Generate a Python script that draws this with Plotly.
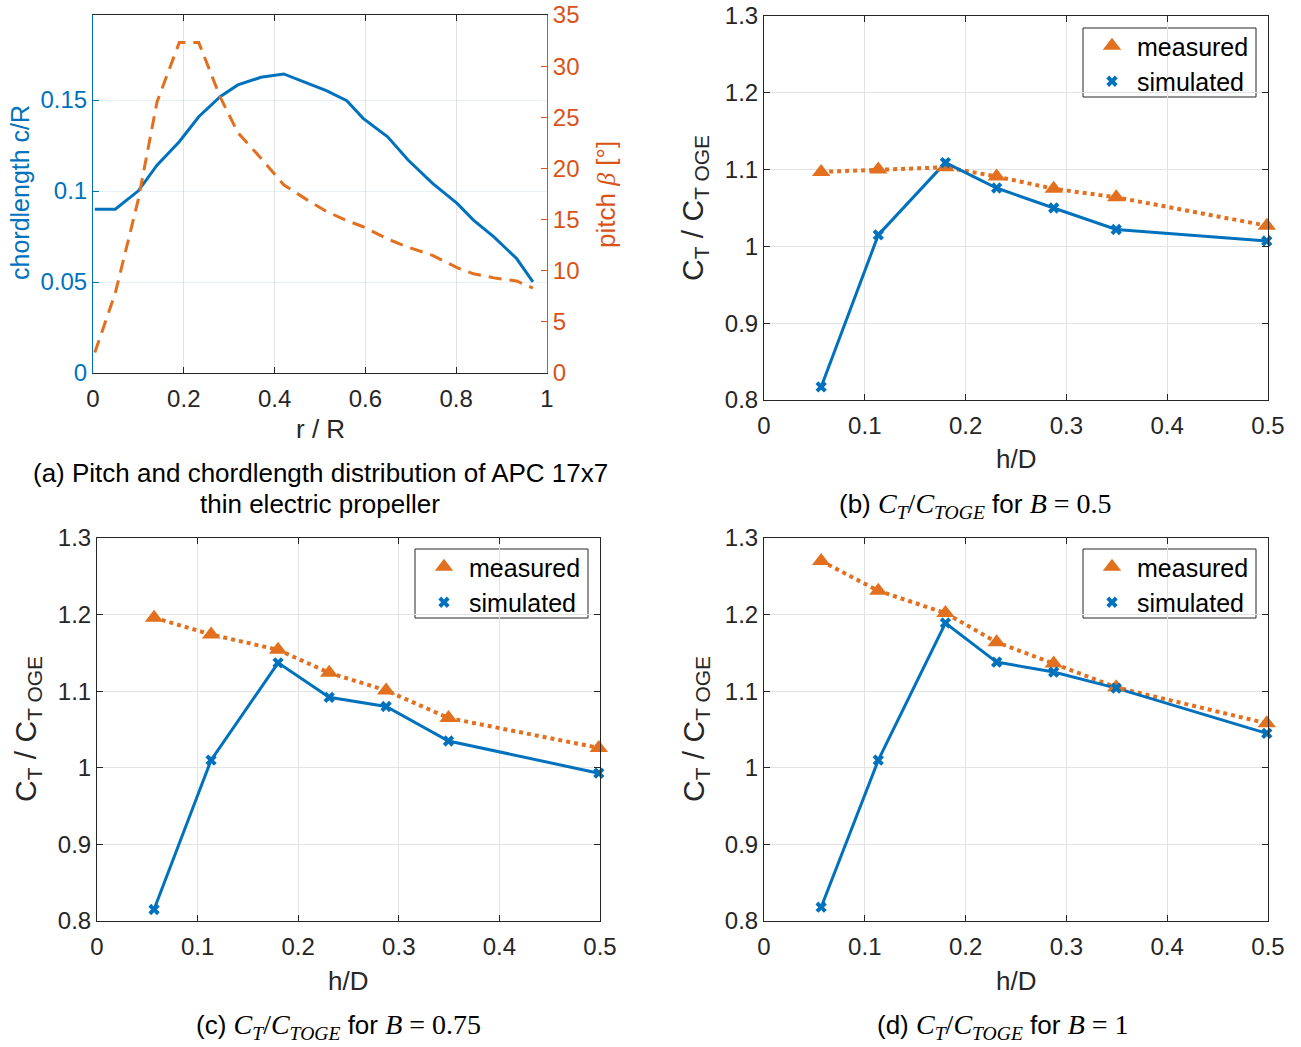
import plotly.graph_objects as go

# ---------------- data ----------------
r_R = [0.004, 0.049, 0.10, 0.141, 0.19, 0.233, 0.28, 0.319, 0.37, 0.42, 0.469,
       0.514, 0.559, 0.595, 0.649, 0.694, 0.748, 0.802, 0.838, 0.883, 0.933, 0.969]
chord_c_R = [0.090, 0.090, 0.1001, 0.1142, 0.1271, 0.1408, 0.1518, 0.1583, 0.1625,
             0.1643, 0.1595, 0.1551, 0.1496, 0.1399, 0.1298, 0.117, 0.1042, 0.0932,
             0.084, 0.0748, 0.0629, 0.0501]
pitch_beta = [2.0, 7.8, 17.0, 26.5, 32.3, 32.3, 27.0, 23.5, 21.0, 18.4, 17.0,
              15.8, 14.9, 14.3, 13.1, 12.3, 11.5, 10.3, 9.7, 9.3, 9.0, 8.3]

h_D = [0.0567, 0.1134, 0.180, 0.2308, 0.2874, 0.3494, 0.4988]

meas_B050 = [1.097, 1.100, 1.103, 1.091, 1.075, 1.064, 1.027]
sim_B050 = [0.817, 1.015, 1.109, 1.076, 1.050, 1.022, 1.007]

meas_B075 = [1.196, 1.174, 1.154, 1.124, 1.101, 1.065, 1.026]
sim_B075 = [0.815, 1.010, 1.137, 1.092, 1.080, 1.035, 0.993]

meas_B100 = [1.270, 1.231, 1.202, 1.164, 1.136, 1.105, 1.058]
sim_B100 = [0.818, 1.010, 1.189, 1.138, 1.125, 1.104, 1.045]

ct_ticks = [0.8, 0.9, 1.0, 1.1, 1.2, 1.3]
ct_ticktext = ["0.8", "0.9", "1", "1.1", "1.2", "1.3"]
hd_ticks = [0, 0.1, 0.2, 0.3, 0.4, 0.5]
hd_ticktext = ["0", "0.1", "0.2", "0.3", "0.4", "0.5"]
rr_ticks = [0, 0.2, 0.4, 0.6, 0.8, 1.0]
rr_ticktext = ["0", "0.2", "0.4", "0.6", "0.8", "1"]
chord_ticks = [0, 0.05, 0.1, 0.15]
chord_ticktext = ["0", "0.05", "0.1", "0.15"]
pitch_ticks = [0, 5, 10, 15, 20, 25, 30, 35]

# ---------------- style ----------------
W, H = 1301, 1047
BLUE = "#0072BD"
ORANGE = "#E2701F"
ORANGE_AX = "#D95319"
AXC = "#262626"
GRID = "#E3E3E3"
FONT = "Liberation Sans, Arial, sans-serif"
TICKF = 24


def px_x(x0, x1):
    return [x0 / W, x1 / W]


def px_y(y0, y1):
    return [1 - y1 / H, 1 - y0 / H]


fig = go.Figure()

# ---- panel (a) ----
fig.add_trace(go.Scatter(x=r_R, y=chord_c_R, mode="lines", xaxis="x", yaxis="y",
                         line=dict(color=BLUE, width=3), showlegend=False))
fig.add_trace(go.Scatter(x=r_R, y=pitch_beta, mode="lines", xaxis="x", yaxis="y5",
                         line=dict(color=ORANGE, width=3, dash="13px,8px"), showlegend=False))

panels = [
    ("x2", "y2", meas_B050, sim_B050, "legend"),
    ("x3", "y3", meas_B075, sim_B075, "legend2"),
    ("x4", "y4", meas_B100, sim_B100, "legend3"),
]
for xa, ya, meas, sim, leg in panels:
    fig.add_trace(go.Scatter(x=h_D, y=meas, mode="lines", xaxis=xa, yaxis=ya,
                             line=dict(color=ORANGE, width=4, dash="dot"),
                             showlegend=False, cliponaxis=False))
    fig.add_trace(go.Scatter(x=h_D, y=sim, mode="lines", xaxis=xa, yaxis=ya,
                             line=dict(color=BLUE, width=3),
                             showlegend=False, cliponaxis=False))
    fig.add_trace(go.Scatter(x=h_D, y=meas, mode="markers", xaxis=xa, yaxis=ya,
                             name="measured", legend=leg, cliponaxis=False,
                             marker=dict(symbol="triangle-up", size=16, color=ORANGE,
                                         line=dict(width=0))))
    fig.add_trace(go.Scatter(x=h_D, y=sim, mode="markers", xaxis=xa, yaxis=ya,
                             name="simulated", legend=leg, cliponaxis=False,
                             marker=dict(symbol="x", size=10, color=BLUE,
                                         line=dict(width=0))))

common_ax = dict(showline=True, linewidth=1, ticks="inside", ticklen=6, automargin=False,
                 tickfont=dict(family=FONT, size=TICKF, color=AXC),
                 showgrid=True, gridcolor=GRID, gridwidth=1, zeroline=False)

layout = dict(
    width=W, height=H, margin=dict(l=0, r=0, t=0, b=0, autoexpand=False),
    paper_bgcolor="white", plot_bgcolor="white",
    font=dict(family=FONT, color=AXC),
    xaxis=dict(domain=px_x(93, 547), range=[0, 1], tickvals=rr_ticks, ticktext=rr_ticktext,
               linecolor=AXC, tickcolor=AXC, mirror="ticks", anchor="y", ticklabelstandoff=4,
               **common_ax),
    yaxis=dict(domain=px_y(15, 373), range=[0, 0.1967], tickvals=chord_ticks, ticktext=chord_ticktext,
               anchor="x", showline=True, linewidth=1, linecolor=BLUE, ticks="inside", ticklen=6,
               tickcolor=BLUE, tickfont=dict(family=FONT, size=TICKF, color=BLUE), automargin=False,
               showgrid=True, gridcolor="rgba(0,114,189,0.10)", zeroline=False),
    yaxis5=dict(domain=px_y(15, 373), range=[0, 35], tickvals=pitch_ticks, overlaying="y",
                side="right", anchor="x", showline=True, linewidth=1, linecolor=ORANGE_AX,
                ticks="inside", ticklen=6, tickcolor=ORANGE_AX, automargin=False,
                tickfont=dict(family=FONT, size=TICKF, color=ORANGE_AX),
                showgrid=False, zeroline=False),
)

axes_pos = {
    "2": (px_x(764, 1268), px_y(16, 400)),
    "3": (px_x(97, 600), px_y(538, 921)),
    "4": (px_x(764, 1268), px_y(538, 921)),
}
for k, (xd, yd) in axes_pos.items():
    layout["xaxis" + k] = dict(domain=xd, range=[0, 0.5], tickvals=hd_ticks, ticktext=hd_ticktext,
                               anchor="y" + k, linecolor=AXC, tickcolor=AXC, mirror="ticks",
                               ticklabelstandoff=4, **common_ax)
    layout["yaxis" + k] = dict(domain=yd, range=[0.8, 1.3], tickvals=ct_ticks, ticktext=ct_ticktext,
                               anchor="x" + k, linecolor=AXC, tickcolor=AXC, mirror="ticks",
                               **common_ax)

# legend boxes drawn as shapes; legends themselves transparent
leg_boxes = [(1083, 28, 1256, 97), (415, 549, 588, 618), (1083, 549, 1256, 618)]
shapes = []
for x0, y0, x1, y1 in leg_boxes:
    shapes.append(dict(type="rect", xref="paper", yref="paper",
                       x0=x0 / W, x1=x1 / W, y0=1 - y1 / H, y1=1 - y0 / H,
                       line=dict(color=AXC, width=1), fillcolor="white", layer="below"))

leg_common = dict(bgcolor="rgba(0,0,0,0)", borderwidth=0,
                  font=dict(family=FONT, size=25, color="#000000"),
                  xanchor="left", yanchor="top", tracegroupgap=0, itemwidth=40)
layout["legend"] = dict(x=(1083 + 4) / W, y=1 - (28 - 5) / H, **leg_common)
layout["legend2"] = dict(x=(415 + 4) / W, y=1 - (549 - 5) / H, **leg_common)
layout["legend3"] = dict(x=(1083 + 4) / W, y=1 - (549 - 5) / H, **leg_common)
layout["shapes"] = shapes

fig.update_layout(**layout)

ann = []


def add_text(text, x, y, size, color="#000000", angle=0):
    ann.append(dict(text=text, x=x / W, y=1 - y / H, xref="paper", yref="paper",
                    showarrow=False, xanchor="center", yanchor="middle",
                    font=dict(family=FONT, size=size, color=color), textangle=angle))


# axis titles
add_text("chordlength c/R", 20, 193, 25, BLUE, -90)
add_text("pitch <span style=\"font-family:'Liberation Serif';font-style:italic\">β</span> [°]",
         606, 195, 26, ORANGE_AX, -90)
add_text("r / R", 320, 429, 26, AXC)

ct_title = "C<sub>T</sub> / C<sub>T OGE</sub>"
add_text(ct_title, 695, 208, 30, AXC, -90)
add_text(ct_title, 27, 729, 30, AXC, -90)
add_text(ct_title, 695, 729, 30, AXC, -90)
add_text("h/D", 1016, 459, 26, AXC)
add_text("h/D", 348, 981, 26, AXC)
add_text("h/D", 1016, 981, 26, AXC)

# captions
SI = "<span style=\"font-family:'Liberation Serif';font-style:italic;font-size:28px\">"
SR = "<span style=\"font-family:'Liberation Serif';font-size:28px\">"
ctc = SI + "C<sub>T</sub></span>" + SR + "/</span>" + SI + "C<sub>TOGE</sub></span>"
add_text("(a) Pitch and chordlength distribution of APC 17x7", 320, 473, 26)
add_text("thin electric propeller", 320, 504, 26)
add_text("(b) " + ctc + " for " + SI + "B</span>" + SR + " = 0.5</span>", 975, 505, 26)
add_text("(c) " + ctc + " for " + SI + "B</span>" + SR + " = 0.75</span>", 338, 1026, 26)
add_text("(d) " + ctc + " for " + SI + "B</span>" + SR + " = 1</span>", 1003, 1026, 26)

fig.update_layout(annotations=ann)
fig.write_html("out.html")
